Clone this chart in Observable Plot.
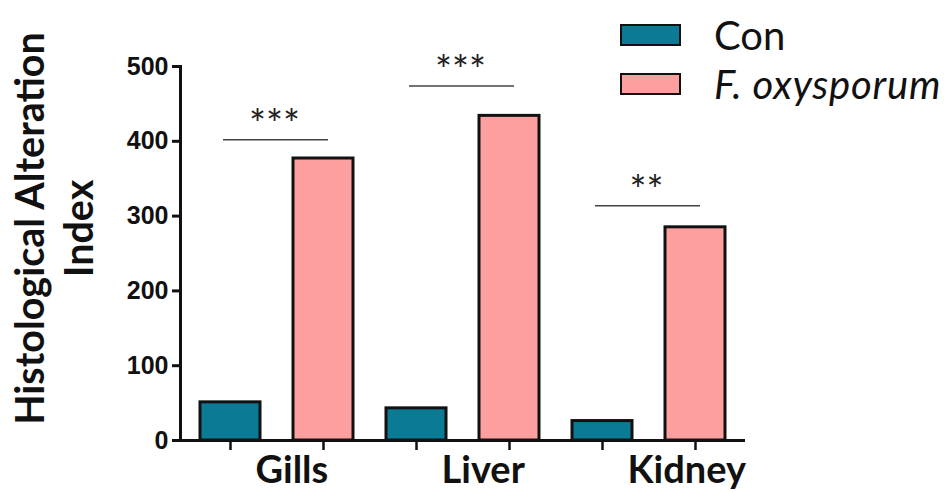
<!DOCTYPE html>
<html><head><meta charset="utf-8">
<script src="https://cdn.jsdelivr.net/npm/d3@7"></script>
<script src="https://cdn.jsdelivr.net/npm/@observablehq/plot@0.6"></script>
<style>
body{margin:0;background:#fff;}
#wrap{position:relative;width:944px;height:492px;overflow:hidden;}
#legend{position:absolute;left:620px;top:10px;font-family:Lato,sans-serif;font-size:40px;color:#111;}
.row{display:flex;align-items:center;height:49px;white-space:nowrap;}
.sw{width:57px;height:18px;border:2.5px solid #111;margin-right:33px;flex:none;}
</style></head><body><div id="wrap"><div id="legend"></div></div>
<script>
const organs = ["Gills", "Liver", "Kidney"];
const groups = ["Con", "F. oxysporum"];
const conValues = [51, 43, 26];
const fusValues = [377, 434, 285];
const sigY = [402, 474, 314];
const sigLabels = ["***", "***", "**"];
const yTicks = [0, 100, 200, 300, 400, 500];
const colors = ["#0b7b95", "#fd9f9f"];
const yLabel = "Histological Alteration\nIndex";

const keys = [];
const rows = [];
organs.forEach((o, i) => {
  groups.forEach((g, j) => {
    const k = o + "|" + g;
    keys.push(k);
    rows.push({organ: o, group: g, key: k, value: (j === 0 ? conValues : fusValues)[i]});
  });
});
const sig = organs.map((o, i) => ({organ: o, from: o + "|" + groups[0], to: o + "|" + groups[1], y: sigY[i], label: sigLabels[i]}));

const chart = Plot.plot({
  width: 944, height: 492,
  marginLeft: 180, marginRight: 199, marginTop: 66, marginBottom: 52,
  style: {background: "transparent", fontFamily: "Lato, sans-serif", color: "#111", overflow: "visible"},
  x: {type: "band", domain: keys, paddingInner: 0.35, paddingOuter: 0.19},
  y: {domain: [0, 500]},
  color: {domain: groups, range: colors},
  marks: [
    Plot.rectY(rows, {x: "key", y: "value", fill: "group", stroke: "#111", strokeWidth: 3}),
    Plot.ruleY([0], {stroke: "#111", strokeWidth: 3}),
    Plot.frame({anchor: "left", stroke: "#111", strokeWidth: 3}),
    Plot.axisY({ticks: yTicks, tickSize: 8, tickPadding: 4, strokeWidth: 3, fontSize: 25, fontWeight: "bold", fontFamily: "Liberation Sans, Arial, sans-serif", label: null}),
    Plot.axisX({tickSize: 10, strokeWidth: 2.5, tickFormat: () => "", label: null}),
    Plot.text(organs, {x: d => d + "|" + groups[0], text: d => d, frameAnchor: "bottom", textAnchor: "start", lineAnchor: "bottom", dx: 25, dy: 42, fontSize: 38, fontWeight: "bold"}),
    Plot.ruleY(sig, {x1: "from", x2: "to", y: "y", stroke: "#444", strokeWidth: 1.5, insetLeft: 23, insetRight: 25}),
    Plot.text(sig, {x: "from", y: "y", text: "label", dx: 44, dy: -1, lineAnchor: "bottom", fontSize: 40, letterSpacing: 1, fill: "#222"}),
    Plot.text([yLabel], {text: d => d, frameAnchor: "left", textAnchor: "middle", lineAnchor: "middle", rotate: -90, dx: -128, dy: -25, fontSize: 39.5, fontWeight: "bold", lineHeight: 1.25})
  ]
});
document.getElementById("wrap").appendChild(chart);

const legend = document.getElementById("legend");
groups.forEach((g, i) => {
  const row = document.createElement("div");
  row.className = "row";
  const sw = document.createElement("div");
  sw.className = "sw";
  sw.style.background = colors[i];
  const t = document.createElement("span");
  t.textContent = g;
  if (i === 1) { t.style.fontStyle = "italic"; t.style.letterSpacing = "0.8px"; }
  row.appendChild(sw);
  row.appendChild(t);
  legend.appendChild(row);
});
</script>
</body></html>
